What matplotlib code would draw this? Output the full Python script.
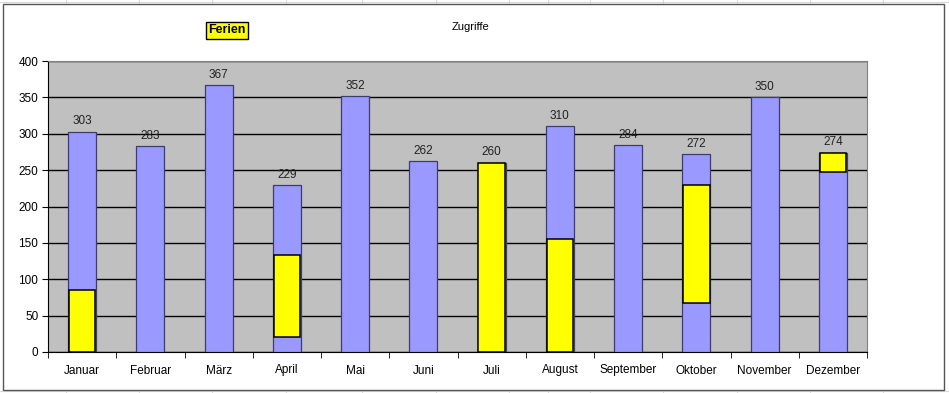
import matplotlib.pyplot as plt
from matplotlib.patches import Rectangle
from matplotlib.lines import Line2D

months = ['Januar', 'Februar', 'März', 'April', 'Mai', 'Juni', 'Juli',
          'August', 'September', 'Oktober', 'November', 'Dezember']
zugriffe = [303, 283, 367, 229, 352, 262, 260, 310, 284, 272, 350, 274]
# holiday share of each bar (start, end); None where no holidays
ferien_von = [0, None, None, 20, None, None, 0, 0, None, 68, None, 248]
ferien_bis = [85, None, None, 134, None, None, 260, 156, None, 230, None, 274]

plt.rcParams['font.family'] = ['Liberation Sans', 'DejaVu Sans']

W, H = 949, 393
fig = plt.figure(figsize=(W / 100, H / 100), dpi=100)
fig.patch.set_facecolor('white')

# faint spreadsheet grid outside the chart object
for x in [66, 139, 212, 286, 362, 436, 509, 548, 590, 663, 737, 810, 883]:
  fig.add_artist(Line2D([x / W, x / W], [0, 1], color='#d8d8d8', lw=0.8, zorder=0))
for y in [2, 391]:
  fig.add_artist(Line2D([0, 1], [1 - y / H, 1 - y / H], color='#d8d8d8', lw=0.8, zorder=0))
fig.add_artist(Rectangle((3 / W, 1 - 390 / H), 941 / W, 386 / H, transform=fig.transFigure,
                         facecolor='white', edgecolor='#555555', lw=1.0, zorder=1))

ax = fig.add_axes([48 / W, 1 - 352 / H, 819 / W, 291 / H], zorder=2)
ax.set_facecolor('#c0c0c0')
x = list(range(len(months)))
ax.bar(x, zugriffe, width=0.41, color='#9999ff', edgecolor='#3c3c6e', linewidth=0.9, zorder=3)
for i in x:
  if ferien_von[i] is not None:
    ax.bar(i, ferien_bis[i] - ferien_von[i], bottom=ferien_von[i], width=0.39,
           color='#ffff00', edgecolor='black', linewidth=1.1, zorder=4)
  ax.text(i, zugriffe[i] + 6, str(zugriffe[i]), ha='center', va='bottom', fontsize=8.5,
          color='#222222', zorder=5)

ax.set_xlim(-0.5, len(months) - 0.5)
ax.set_ylim(0, 400)
ax.set_yticks(range(0, 401, 50))
ax.yaxis.grid(True, color='black', lw=1.0, zorder=1)
ax.set_axisbelow(True)
ax.set_xticks(x)
ax.set_xticklabels(months)
ax.set_xticks([i + 0.5 for i in range(-1, len(months))], minor=True)
ax.tick_params(axis='x', which='major', length=0, pad=9, labelsize=8.5)
ax.tick_params(axis='x', which='minor', length=4, direction='out', color='black')
ax.tick_params(axis='y', length=4, direction='out', labelsize=8.5, pad=3)
for s in ['top', 'right']:
  ax.spines[s].set_color('#808080')
for s in ['left', 'bottom']:
  ax.spines[s].set_color('black')

fig.text(470 / W, 1 - 27 / H, 'Zugriffe', ha='center', va='center', fontsize=8)
fig.text(227 / W, 1 - 30 / H, 'Ferien', ha='center', va='center', fontsize=9, fontweight='bold',
         bbox=dict(boxstyle='square,pad=0.2', facecolor='#ffff00', edgecolor='black', lw=1.0))

fig.savefig('out.png', dpi=100)
